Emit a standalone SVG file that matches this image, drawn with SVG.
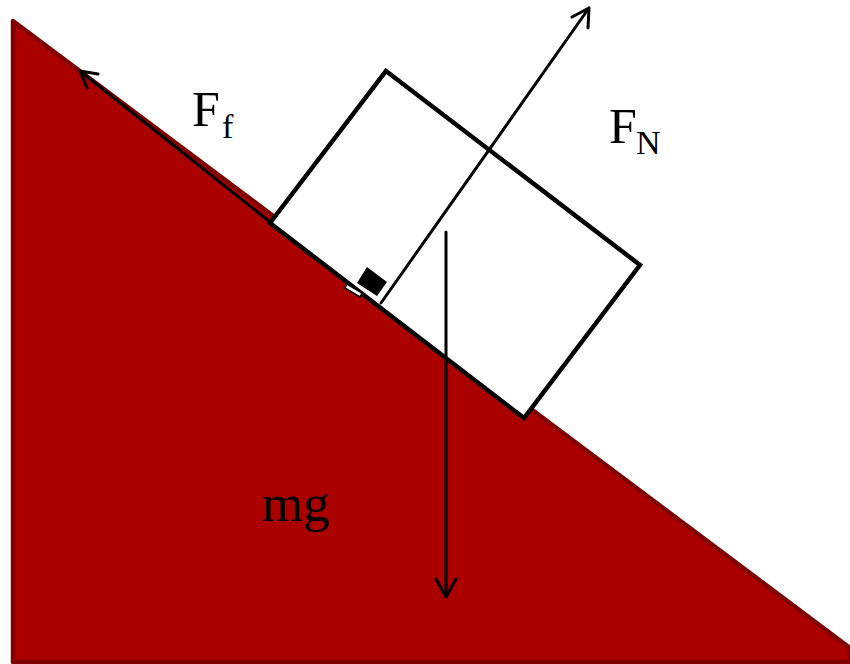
<svg xmlns="http://www.w3.org/2000/svg" width="850" height="664" viewBox="0 0 850 664">
<style>
.lbl{font-family:"Liberation Serif","Times New Roman",serif;fill:#000}
.vec{stroke:#000;stroke-width:3;fill:none;stroke-linecap:round;stroke-linejoin:round}
</style>
<rect width="850" height="664" fill="#fff"/>
<g id="incline">
<polygon points="13,21 850,648 850,662 13,662" fill="#aa0000" stroke="#800000" stroke-width="4.5" stroke-linejoin="round"/>
</g>
<g id="block">
<polygon points="386,71 640,265 524,418 270,223" fill="#fff" stroke="#000" stroke-width="4.5" stroke-linejoin="miter"/>
</g>
<g id="right-angle">
<polygon points="347,284 362,293 360,297 345,288" fill="#fff" stroke="#000" stroke-width="1.5"/>
<polygon points="367,267 387,282 377,296 357,283" fill="#000"/>
</g>
<g id="connectors">
<path class="vec" d="M270,222 L80,71 M80,71 L98,74 M80,71 L87,88"/>
<path class="vec" d="M381,303 L589,8 M589,8 L572,17 M589,8 L588,28"/>
<path class="vec" d="M446,232 L446,597 M446,597 L436,579 M446,597 L456,579"/>
</g>
<g id="label-Ff">
<text class="lbl" x="192" y="126" font-size="50">F</text>
<text class="lbl" x="222" y="138" font-size="34">f</text>
</g>
<g id="label-FN">
<text class="lbl" x="609" y="143" font-size="50">F</text>
<text class="lbl" x="636" y="154" font-size="34">N</text>
</g>
<g id="label-mg">
<text class="lbl" x="262" y="521" font-size="53">mg</text>
</g>
</svg>
